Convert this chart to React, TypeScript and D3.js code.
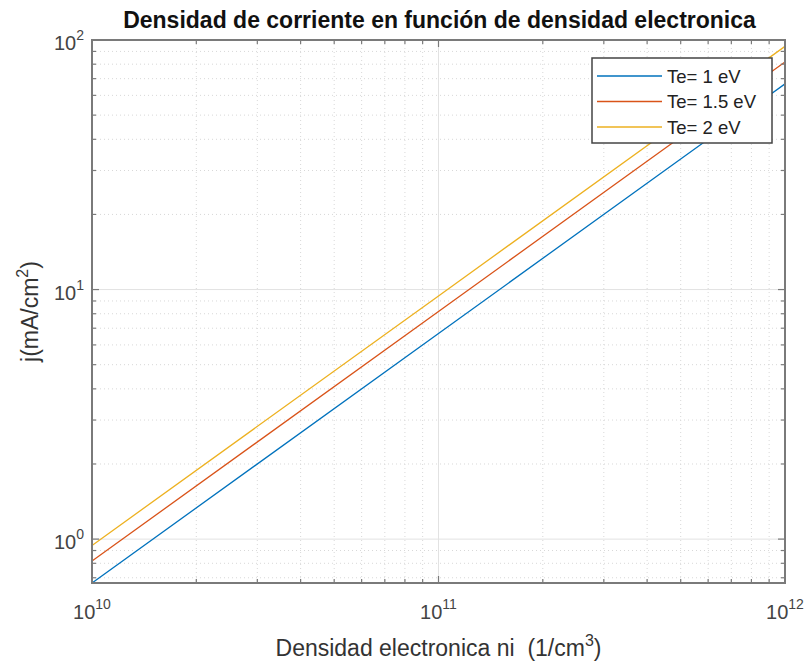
import React from "react";
import * as d3 from "d3";

// Densidad electronica ni (1/cm^3)
const densidad = [1e10, 1e11, 1e12];
// Densidad de corriente j (mA/cm^2) for each electron temperature
const jTe1 = [0.667, 6.67, 66.7];
const jTe15 = [0.817, 8.17, 81.7];
const jTe2 = [0.943, 9.43, 94.3];
const seriesNames = ["Te= 1 eV", "Te= 1.5 eV", "Te= 2 eV"];
const seriesValues = [jTe1, jTe15, jTe2];
const seriesColors = ["#0072BD", "#D95319", "#EDB120"];

const xExponents = [10, 11, 12];
const yExponents = [0, 1, 2];

const W = 811;
const H = 663;
const M = { left: 92, right: 785, top: 40, bottom: 583 };
const FONT = "'Liberation Sans', Arial, Helvetica, sans-serif";

export default function App() {
  const x = d3.scaleLog().domain([1e10, 1e12]).range([M.left, M.right]);
  const y = d3.scaleLog().domain([0.667, 100]).range([M.bottom, M.top]);

  const xMajor = xExponents.map((e) => Math.pow(10, e));
  const xMinor: number[] = [];
  for (let e = 10; e < 12; e++) for (let k = 2; k <= 9; k++) xMinor.push(k * Math.pow(10, e));
  const yMajor = yExponents.map((e) => Math.pow(10, e));
  const yMinor: number[] = [];
  for (let e = -1; e < 2; e++)
    for (let k = 2; k <= 9; k++) {
      const v = k * Math.pow(10, e);
      if (v >= 0.667 && v <= 100) yMinor.push(v);
    }

  const line = d3
    .line<number>()
    .x((_, i) => x(densidad[i]))
    .y((d) => y(d));

  const axisColor = "#7a7a7a";

  return (
    <svg
      width={W}
      height={H}
      style={{ position: "absolute", left: 0, top: 0, display: "block", background: "#fff" }}
      fontFamily={FONT}
    >
      <rect x={0} y={0} width={W} height={H} fill="#fff" />
      <defs>
        <clipPath id="plotArea">
          <rect x={M.left} y={M.top} width={M.right - M.left} height={M.bottom - M.top} />
        </clipPath>
      </defs>

      {/* minor grid */}
      {xMinor.map((v) => (
        <line key={"xm" + v} x1={x(v)} x2={x(v)} y1={M.top} y2={M.bottom} stroke="#d8d8d8" strokeWidth={1} strokeDasharray="1 3" />
      ))}
      {yMinor.map((v) => (
        <line key={"ym" + v} x1={M.left} x2={M.right} y1={y(v)} y2={y(v)} stroke="#d8d8d8" strokeWidth={1} strokeDasharray="1 3" />
      ))}
      {/* major grid */}
      {xMajor.map((v) => (
        <line key={"xM" + v} x1={x(v)} x2={x(v)} y1={M.top} y2={M.bottom} stroke="#e2e2e2" strokeWidth={1} />
      ))}
      {yMajor.map((v) => (
        <line key={"yM" + v} x1={M.left} x2={M.right} y1={y(v)} y2={y(v)} stroke="#e2e2e2" strokeWidth={1} />
      ))}

      {/* data */}
      <g clipPath="url(#plotArea)">
        {seriesValues.map((vals, i) => (
          <path key={seriesNames[i]} d={line(vals) || ""} fill="none" stroke={seriesColors[i]} strokeWidth={1.3} />
        ))}
      </g>

      {/* ticks (inside, on all sides) */}
      {xMajor.map((v) => (
        <g key={"xt" + v} stroke={axisColor} strokeWidth={1.2}>
          <line x1={x(v)} x2={x(v)} y1={M.bottom} y2={M.bottom - 7} />
          <line x1={x(v)} x2={x(v)} y1={M.top} y2={M.top + 7} />
        </g>
      ))}
      {xMinor.map((v) => (
        <g key={"xtm" + v} stroke={axisColor} strokeWidth={1.2}>
          <line x1={x(v)} x2={x(v)} y1={M.bottom} y2={M.bottom - 4} />
          <line x1={x(v)} x2={x(v)} y1={M.top} y2={M.top + 4} />
        </g>
      ))}
      {yMajor.map((v) => (
        <g key={"yt" + v} stroke={axisColor} strokeWidth={1.2}>
          <line x1={M.left} x2={M.left + 7} y1={y(v)} y2={y(v)} />
          <line x1={M.right} x2={M.right - 7} y1={y(v)} y2={y(v)} />
        </g>
      ))}
      {yMinor.map((v) => (
        <g key={"ytm" + v} stroke={axisColor} strokeWidth={1.2}>
          <line x1={M.left} x2={M.left + 4} y1={y(v)} y2={y(v)} />
          <line x1={M.right} x2={M.right - 4} y1={y(v)} y2={y(v)} />
        </g>
      ))}

      {/* axes box */}
      <rect
        x={M.left}
        y={M.top}
        width={M.right - M.left}
        height={M.bottom - M.top}
        fill="none"
        stroke={axisColor}
        strokeWidth={2}
      />

      {/* x tick labels */}
      {xExponents.map((e) => (
        <text key={"xl" + e} x={x(Math.pow(10, e))} y={619} textAnchor="middle" fontSize={20} fill="#444">
          10
          <tspan dy={-10} fontSize={14}>{e}</tspan>
        </text>
      ))}
      {/* y tick labels */}
      {yExponents.map((e) => (
        <text key={"yl" + e} x={84} y={y(Math.pow(10, e)) + 10} textAnchor="end" fontSize={20} fill="#444">
          10
          <tspan dy={-10} fontSize={14}>{e}</tspan>
        </text>
      ))}

      {/* title */}
      <text x={(M.left + M.right) / 2 + 1} y={28} textAnchor="middle" fontSize={23} fontWeight="bold" fill="#111">
        Densidad de corriente en función de densidad electronica
      </text>

      {/* axis labels */}
      <text x={(M.left + M.right) / 2} y={656} textAnchor="middle" fontSize={23} fill="#333">
        Densidad electronica ni{"\u00a0\u00a0"}(1/cm
        <tspan dy={-10} fontSize={16}>3</tspan>
        <tspan dy={10}>)</tspan>
      </text>
      <text transform={`translate(38, ${(M.top + M.bottom) / 2}) rotate(-90)`} textAnchor="middle" fontSize={23} fill="#333">
        j(mA/cm
        <tspan dy={-10} fontSize={16}>2</tspan>
        <tspan dy={10}>)</tspan>
      </text>

      {/* legend */}
      <rect x={592} y={58} width={180} height={85} fill="#fff" stroke="#444" strokeWidth={1.5} />
      {seriesNames.map((name, i) => {
        const ly = 76 + i * 25.5;
        return (
          <g key={"lg" + name}>
            <line x1={597} x2={662} y1={ly} y2={ly} stroke={seriesColors[i]} strokeWidth={1.5} />
            <text x={667} y={ly + 6.5} fontSize={18.5} fill="#222">
              {name}
            </text>
          </g>
        );
      })}
    </svg>
  );
}
